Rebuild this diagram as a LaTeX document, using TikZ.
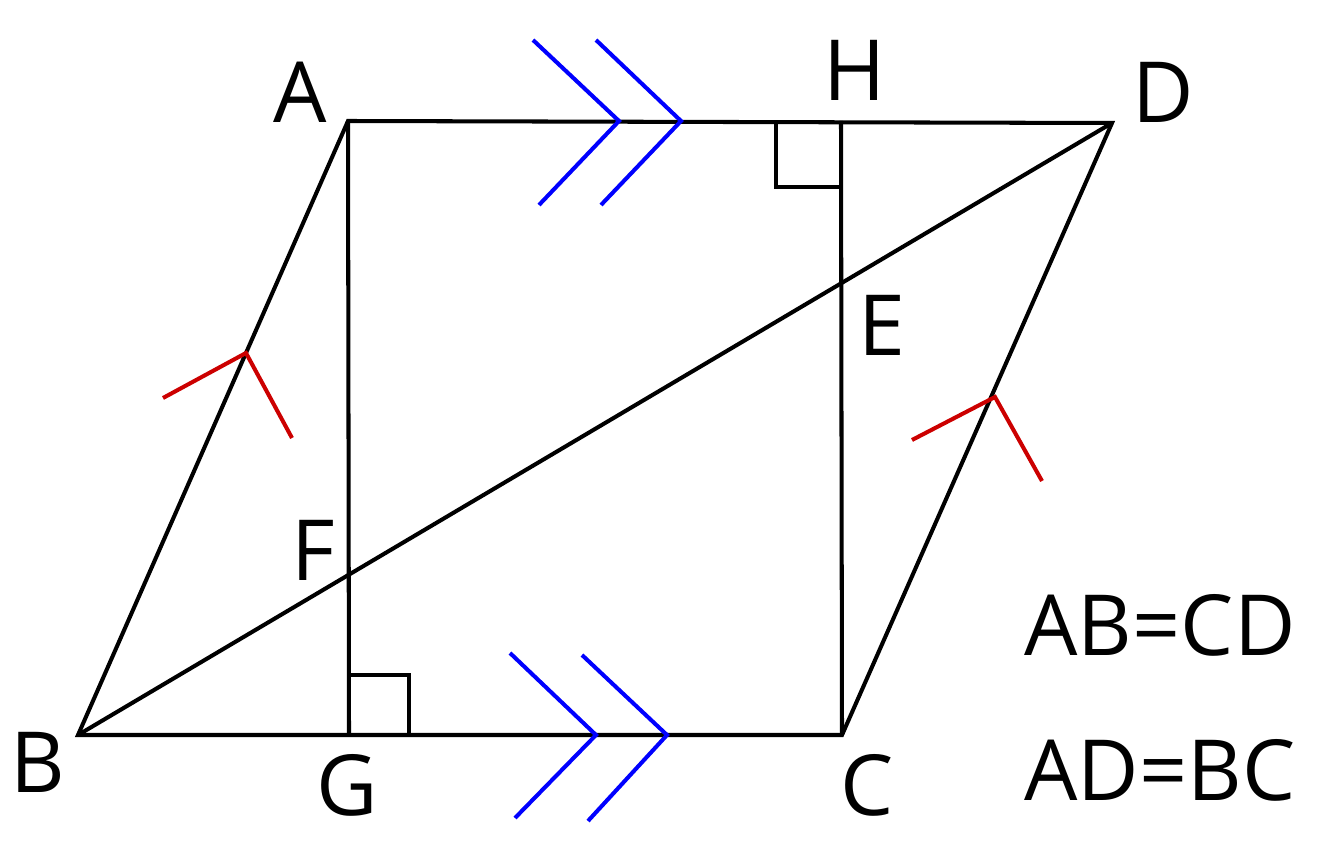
\documentclass[tikz,border=0pt]{standalone}
\usepackage{fontspec}
\setmainfont{Open Sans}
\begin{document}
\begin{tikzpicture}[x=0.02cm,y=-0.02cm,
  edge/.style={line width=2.3pt,black},
  blu/.style={line width=2.3pt,blue},
  rd/.style={line width=2.3pt,red!80!black},
  lbl/.style={font=\fontsize{48}{56}\selectfont}]
\useasboundingbox (0,0) rectangle (1333,841);
\coordinate (A) at (348,121); \coordinate (D) at (1112,123);
\coordinate (B) at (78,735); \coordinate (C) at (842,735);
\coordinate (H) at (841,121); \coordinate (G) at (349,735);
\draw[edge,line join=miter] (A)--(D)--(C)--(B)--cycle;
\draw[edge] (B)--(D);
\draw[edge] (A)--(G);
\draw[edge] (H)--(C);
\draw[edge] (776,121)--(776,187)--(841,187);
\draw[edge] (349,675)--(409,675)--(409,735);
\draw[blu] (533,40)--(619,121)--(539,205);
\draw[blu] (596,40)--(681,121)--(601,205);
\draw[blu] (510,653)--(596,735)--(515,818);
\draw[blu] (582,655)--(667,735)--(588,821);
\draw[rd] (163,398)--(246,353)--(292,438);
\draw[rd] (912,440)--(995,397)--(1042,481);
\node[lbl] (lA) at (300,92) {A};
\node[lbl] (lH) at (855,70) {H};
\node[lbl] (lD) at (1163,92) {D};
\node[lbl] (lE) at (882,325) {E};
\node[lbl] (lF) at (313,550) {F};
\node[lbl] (lB) at (38,762) {B};
\node[lbl] (lG) at (347,785) {G};
\node[lbl] (lC) at (867,785) {C};
\node[lbl] (t1) at (1160,625) {AB=CD};
\node[lbl] (t2) at (1160,770) {AD=BC};
\end{tikzpicture}
\end{document}
